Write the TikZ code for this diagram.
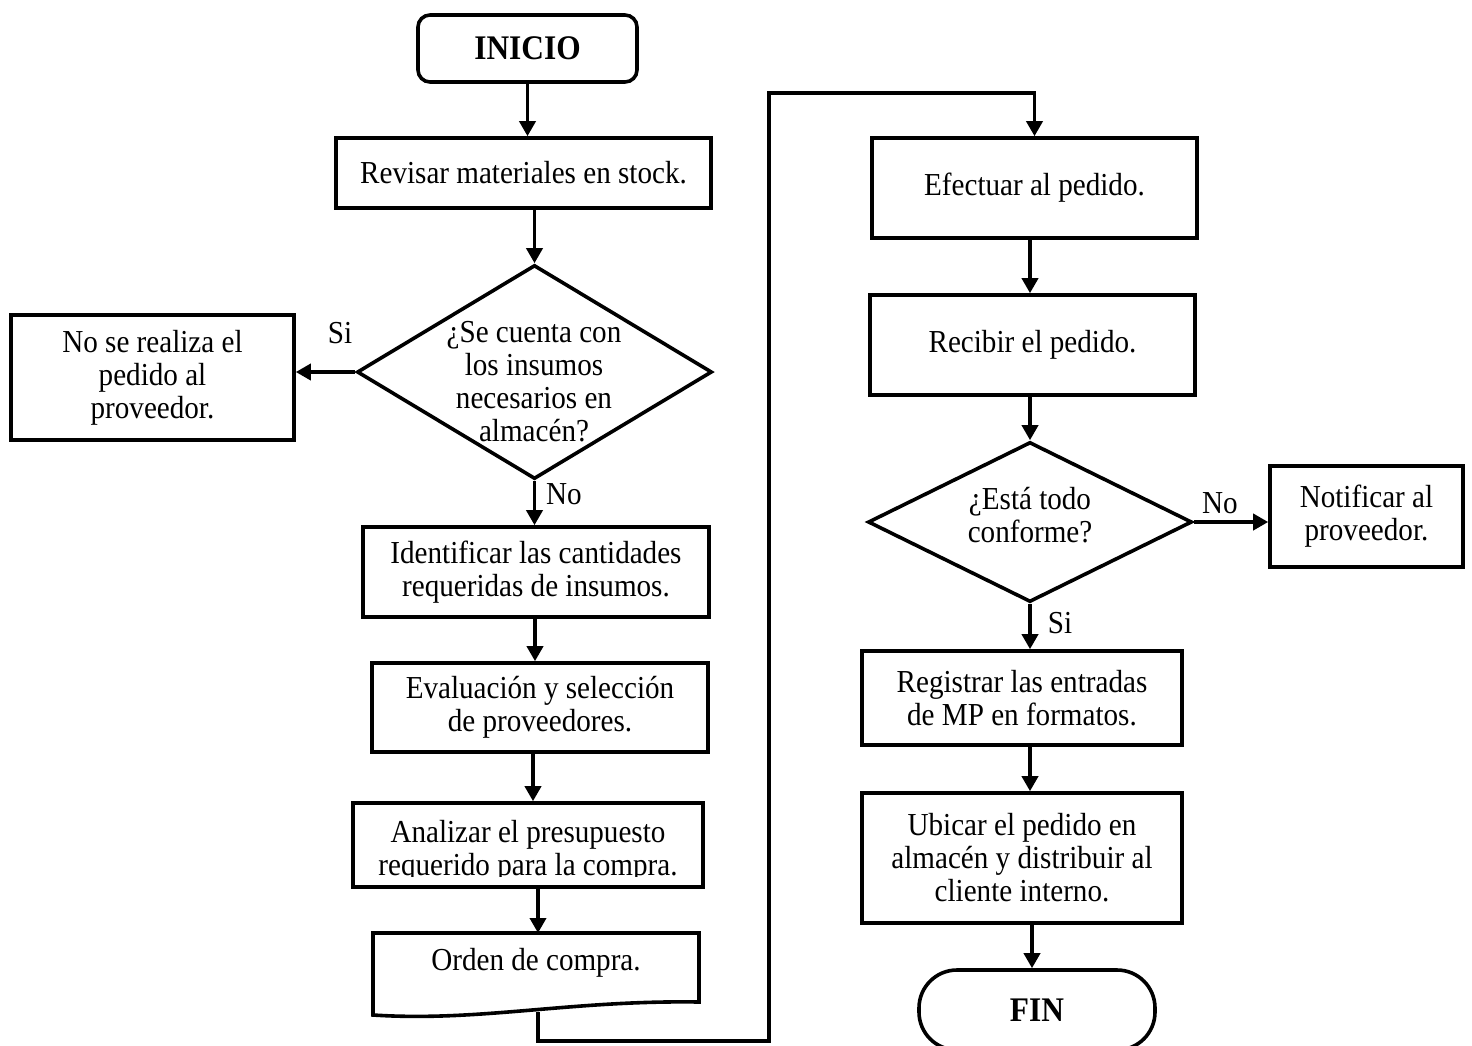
\documentclass[tikz,border=0pt]{standalone}
\usepackage{fontspec}
\setmainfont[FakeStretch=0.91]{Liberation Serif}
\usetikzlibrary{arrows.meta,shapes.geometric}

\begin{document}
\begin{tikzpicture}[x=1pt,y=-1pt,
  every node/.style={font=\fontsize{32}{33}\selectfont},
  box/.style={draw, line width=3.6pt, rectangle, inner sep=0pt, align=center},
  term/.style={draw, line width=3.6pt, rectangle, inner sep=0pt, align=center, font=\fontsize{34.5}{36}\selectfont\bfseries},
  decision/.style={draw, diamond, line width=3.6pt, inner sep=0pt},
  txt/.style={inner sep=0pt, align=center},
  arrow/.style={line width=3.6pt, -{Triangle[length=15pt,width=16pt]}}
]
\useasboundingbox (0,0) rectangle (1472,1045);
\clip (0,0) rectangle (1472,1045);

% ---------- left column ----------
\node[term, rounded corners=12pt, minimum width=219, minimum height=67] (inicio) at (527.5,48.5) {INICIO};
\node[box, minimum width=375, minimum height=70] (revisar) at (523.5,173) {Revisar materiales en stock.};

\node[decision, minimum width=355, minimum height=214] (d1) at (534.5,372) {};
\node[txt] (d1t) at (534,382) {¿Se cuenta con\\los insumos\\necesarios en\\almacén?};

\node[box, minimum width=283, minimum height=125] (nose) at (152.5,377.5) {No se realiza el\\pedido al\\proveedor.};

\node[box, minimum width=346, minimum height=90] (ident) at (536,572) {Identificar las cantidades\\requeridas de insumos.};
\node[box, minimum width=336, minimum height=89] (evalua) at (540,707.5) {Evaluación y selección\\de proveedores.};
\node[box, minimum width=350, minimum height=84] (analiza) at (528,845) {};
\begin{scope}
  \clip (356,806) rectangle (700,876);
  \node[txt] (analizat) at (528,851) {Analizar el presupuesto\\requerido para la compra.};
\end{scope}

% document shape with wavy lower edge
\draw[line width=3.6pt, line join=miter]
  (373,1015) -- (373,933) -- (699,933) -- (699,1002)
  .. controls (570,1000) and (480,1022) .. cycle;
\node[txt] (orden) at (536,963) {Orden de compra.};
\coordinate (ordentop) at (538,933);
\coordinate (ordenout) at (538,1012);

% ---------- right column ----------
\node[box, minimum width=325, minimum height=100] (efectuar) at (1034.5,188) {Efectuar al pedido.};
\node[box, minimum width=325, minimum height=100] (recibir) at (1032.5,345) {Recibir el pedido.};

\node[decision, minimum width=324, minimum height=160] (d2) at (1030,522) {};
\node[txt] (d2t) at (1030,515) {¿Está todo\\conforme?};

\node[box, minimum width=193, minimum height=101] (notif) at (1366.5,516.5) {Notificar al\\proveedor.};
\node[box, minimum width=320, minimum height=94] (registrar) at (1022,698) {Registrar las entradas\\de MP en formatos.};
\node[box, minimum width=320, minimum height=130] (ubicar) at (1022,858) {Ubicar el pedido en\\almacén y distribuir al\\cliente interno.};
\node[term, rounded corners=38pt, minimum width=236, minimum height=80] (fin) at (1037,1010) {FIN};

% ---------- branch labels ----------
\node[txt] (si1) at (340,333) {Si};
\node[txt] (no1) at (564,494) {No};
\node[txt] (no2) at (1220,503) {No};
\node[txt] (si2) at (1060,623) {Si};

% ---------- connectors ----------
\draw[arrow] (inicio.south) -- (inicio.south |- revisar.north);
\draw[arrow] (revisar.south -| d1.north) -- (d1.north);
\draw[arrow] (d1.west) -- (d1.west -| nose.east);
\draw[arrow] (d1.south) -- (d1.south |- ident.north);
\draw[arrow] ([xshift=-1pt]ident.south) -- ([xshift=-1pt]ident.south |- evalua.north);
\draw[arrow] ([xshift=-7pt]evalua.south) -- ([xshift=-7pt]evalua.south |- analiza.north);
\draw[arrow] (ordentop |- analiza.south) -- (ordentop);

\coordinate (rA) at (769,1041);
\coordinate (rB) at (769,93);
\draw[arrow, line join=miter] (ordenout) |- (rA) -- (rB) -| (efectuar.north);

\draw[arrow] (d2.north |- efectuar.south) -- (d2.north |- recibir.north);
\draw[arrow] (d2.north |- recibir.south) -- (d2.north);
\draw[arrow] (d2.east) -- (d2.east -| notif.west);
\draw[arrow] (d2.south) -- (d2.south |- registrar.north);
\draw[arrow] (d2.south |- registrar.south) -- (d2.south |- ubicar.north);
\draw[arrow] ([xshift=10pt]ubicar.south) -- ([xshift=10pt]ubicar.south |- fin.north);
\end{tikzpicture}
\end{document}
